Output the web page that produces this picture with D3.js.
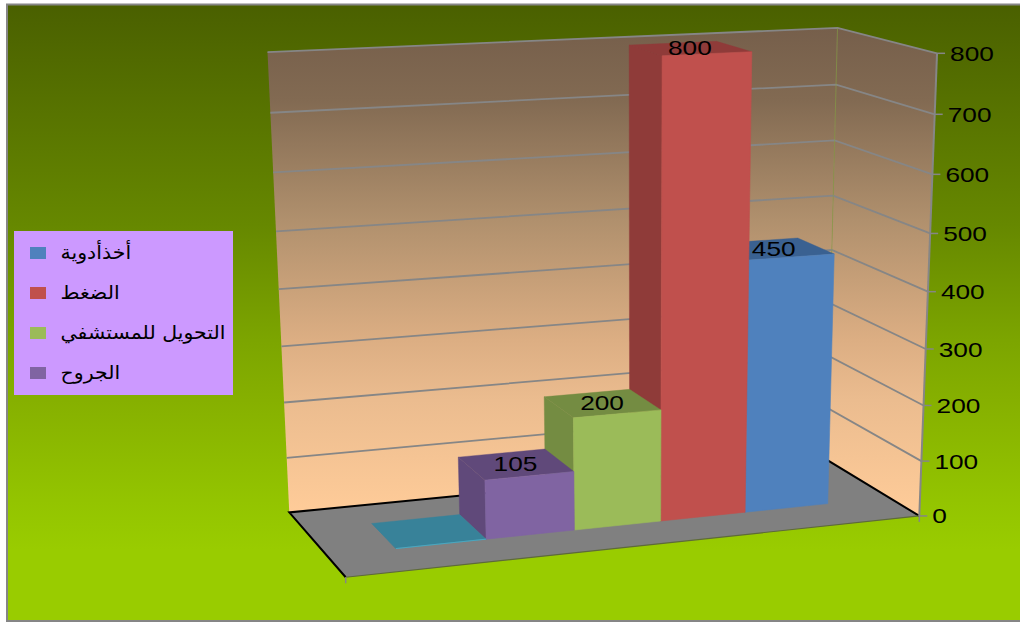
<!DOCTYPE html>
<html>
<head>
<meta charset="utf-8">
<script src="https://cdn.jsdelivr.net/npm/d3@7"></script>
<style>
  body { margin: 0; background: #fff; }
  svg { display: block; }
  text { font-family: "Liberation Sans", Arial, sans-serif; fill: #000; }
  .legend text { font-family: "DejaVu Sans", sans-serif; }
</style>
</head>
<body>
<div id="chart"></div>
<script>
// first bar has no value and no legend entry in the original
var seriesNames = ["", "الجروح", "التحويل للمستشفي", "الضغط", "أخذأدوية"];
var seriesValues = [0, 105, 200, 800, 450];
var seriesColors = ["#4BACC6", "#8064A2", "#9BBB59", "#C0504D", "#4F81BD"];
var sideColors = ["#388299", "#60497A", "#748C42", "#8F3B39", "#3A6191"];
var legendOrder = ["أخذأدوية", "الضغط", "التحويل للمستشفي", "الجروح"];
var valueTicks = [0, 100, 200, 300, 400, 500, 600, 700, 800];

var width = 1020, height = 623;

// 3D box corners -> where they land in the picture (u across, v up, w to the back)
var cameraAnchors = [
    [0, 0, 0, 346, 578], [1, 0, 0, 918, 515], [0, 0, 1, 289, 511], [1, 0, 1, 828, 461],
    [1, 1, 0, 938, 53], [0, 1, 1, 268, 51], [1, 1, 1, 836, 29],
    [1, 0.5, 0, 928, 292], [0, 0.5, 1, 278.5, 289], [1, 0.5, 1, 832, 248],
    [1, 0.25, 0, 923, 406], [1, 0.75, 0, 933, 174], [0, 0.25, 1, 284, 403], [0, 0.75, 1, 273, 174]
];

// least squares fit of the projection
function fitCamera(points) {
    var n = 11, A = d3.range(n).map(() => d3.range(n + 1).map(() => 0));
    function addRow(row, rhs) {
        for (var i = 0; i < n; i++) {
            for (var j = 0; j < n; j++) A[i][j] += row[i] * row[j];
            A[i][n] += row[i] * rhs;
        }
    }
    points.forEach(function (p) {
        var u = p[0], v = p[1], w = p[2], x = p[3] / 1000, y = p[4] / 1000;
        addRow([u, v, w, 1, 0, 0, 0, 0, -x * u, -x * v, -x * w], x);
        addRow([0, 0, 0, 0, u, v, w, 1, -y * u, -y * v, -y * w], y);
    });
    for (var c = 0; c < n; c++) {
        var pivot = c;
        for (var r = c + 1; r < n; r++) if (Math.abs(A[r][c]) > Math.abs(A[pivot][c])) pivot = r;
        var tmp = A[c]; A[c] = A[pivot]; A[pivot] = tmp;
        for (var r = 0; r < n; r++) {
            if (r == c) continue;
            var f = A[r][c] / A[c][c];
            for (var k = c; k <= n; k++) A[r][k] -= f * A[c][k];
        }
    }
    return A.map((row, i) => row[n] / row[i]);
}

var cam = fitCamera(cameraAnchors);

function project(u, v, w) {
    var d = cam[8] * u + cam[9] * v + cam[10] * w + 1;
    return [
        1000 * (cam[0] * u + cam[1] * v + cam[2] * w + cam[3]) / d,
        1000 * (cam[4] * u + cam[5] * v + cam[6] * w + cam[7]) / d
    ];
}

// scales into the unit box
var x = d3.scaleBand().domain(seriesNames).range([0, 1]).paddingInner(0).paddingOuter(0.75).align(0.5);
var y = d3.scaleLinear().domain([0, 800]).range([0, 1]);
var depthFront = 0.315, depthBack = 0.71;

var line = d3.line();
function poly(pts) { return line(pts.map(p => project(p[0], p[1], p[2]))) + "Z"; }

var svg = d3.select("#chart").append("svg").attr("width", width).attr("height", height);
var defs = svg.append("defs");

// stops are [y in the picture, colour]
function gradient(id, stops) {
    var y1 = stops[0][0], y2 = stops[stops.length - 1][0];
    var g = defs.append("linearGradient").attr("id", id)
        .attr("gradientUnits", "userSpaceOnUse")
        .attr("x1", 0).attr("x2", 0).attr("y1", y1).attr("y2", y2);
    stops.forEach(s => g.append("stop").attr("offset", (s[0] - y1) / (y2 - y1)).attr("stop-color", s[1]));
}
gradient("bg", [[5, "#4A6000"], [225, "#668800"], [340, "#7CA500"], [400, "#86B000"], [500, "#93C400"], [550, "#99CC00"]]);
gradient("wall", [[29, "#765F4B"], [100, "#826A52"], [220, "#B0906D"], [340, "#DCAE83"], [400, "#EBBC8F"], [515, "#FFCC99"]]);

// chart area
svg.append("rect").attr("x", 7).attr("y", 4.5).attr("width", width).attr("height", 616.5)
    .attr("fill", "url(#bg)").attr("stroke", "#868686").attr("stroke-width", 2);

// walls and floor
svg.append("path").attr("d", poly([[0, 0, 1], [1, 0, 1], [1, 1, 1], [0, 1, 1]])).attr("fill", "url(#wall)");
svg.append("path").attr("d", poly([[1, 0, 1], [1, 0, 0], [1, 1, 0], [1, 1, 1]])).attr("fill", "url(#wall)");
svg.append("path").attr("d", poly([[0, 0, 0], [1, 0, 0], [1, 0, 1], [0, 0, 1]])).attr("fill", "#808080");

// gridlines
svg.append("g").selectAll("path").data(valueTicks.filter(d => d > 0)).join("path")
    .attr("d", d => line([project(0, y(d), 1), project(1, y(d), 1), project(1, y(d), 0)]))
    .attr("fill", "none").attr("stroke", "#868686").attr("stroke-width", 1.8);

// back corner
svg.append("path").attr("d", line([project(1, 0, 1), project(1, 1, 1)]))
    .attr("stroke", "#8A9A50").attr("stroke-width", 0.7).attr("fill", "none");

// floor edges
svg.append("path").attr("d", line([project(0, 0, 0), project(0, 0, 1), project(1, 0, 1), project(1, 0, 0)]))
    .attr("fill", "none").attr("stroke", "#000").attr("stroke-width", 2);
svg.append("path").attr("d", line([project(0, 0, 0), project(1, 0, 0)]))
    .attr("fill", "none").attr("stroke", "#5E6A3A").attr("stroke-width", 1.2);

// value axis
var axisG = svg.append("g");
axisG.append("path").attr("d", line([project(1, 0, 0), project(1, 1, 0)]))
    .attr("stroke", "#868686").attr("stroke-width", 2).attr("fill", "none");
axisG.selectAll("line").data(valueTicks).join("line")
    .attr("x1", d => project(1, y(d), 0)[0])
    .attr("x2", d => project(1, y(d), 0)[0] + 8)
    .attr("y1", d => project(1, y(d), 0)[1])
    .attr("y2", d => project(1, y(d), 0)[1])
    .attr("stroke", "#868686").attr("stroke-width", 1.5);
axisG.selectAll("text").data(valueTicks).join("text")
    .attr("transform", d => {
        var p = project(1, y(d), 0);
        return "translate(" + (p[0] + 13) + "," + (p[1] + 7.5) + ") scale(1.25,1)";
    })
    .style("font-size", "21px")
    .text(d => d);

// small marks under the front corners
[[0, 0, 0], [1, 0, 0]].forEach(function (c) {
    var p = project(c[0], c[1], c[2]);
    svg.append("line").attr("x1", p[0]).attr("x2", p[0]).attr("y1", p[1]).attr("y2", p[1] + 6)
        .attr("stroke", "#868686").attr("stroke-width", 1.5);
});

// bars, right one first so the nearer left ones paint over it
var bars = seriesNames.map((name, i) => ({
    name: name, value: seriesValues[i], color: seriesColors[i], side: sideColors[i]
})).reverse();

var barG = svg.append("g").selectAll("g").data(bars).join("g");
barG.each(function (d) {
    var g = d3.select(this);
    var u0 = x(d.name), u1 = u0 + x.bandwidth(), v = y(d.value);
    var wF = depthFront, wB = depthBack;
    g.append("path").attr("d", poly([[u0, 0, wB], [u0, 0, wF], [u0, v, wF], [u0, v, wB]]))
        .attr("fill", d.side).attr("stroke", d.side).attr("stroke-width", 0.4);
    g.append("path").attr("d", poly([[u0, v, wF], [u1, v, wF], [u1, v, wB], [u0, v, wB]]))
        .attr("fill", d.side).attr("stroke", d.side).attr("stroke-width", 0.4);
    g.append("path").attr("d", poly([[u0, 0, wF], [u1, 0, wF], [u1, v, wF], [u0, v, wF]]))
        .attr("fill", d.color).attr("stroke", d.color).attr("stroke-width", 0.6);
});

// data labels sit on the top faces
svg.append("g").selectAll("text").data(bars.filter(d => d.value > 0)).join("text")
    .attr("text-anchor", "middle")
    .attr("transform", d => {
        var p = project(x(d.name) + x.bandwidth() / 2, y(d.value), (depthFront + depthBack) / 2);
        return "translate(" + p[0] + "," + (p[1] + 7) + ") scale(1.25,1)";
    })
    .style("font-size", "21px")
    .text(d => d.value);

// legend
var legend = svg.append("g").attr("class", "legend");
legend.append("rect").attr("x", 14).attr("y", 231).attr("width", 219).attr("height", 164).attr("fill", "#CC99FF");
var row = d3.scalePoint().domain(legendOrder).range([253, 373]);
var colorOf = d3.scaleOrdinal().domain(seriesNames).range(seriesColors);
legend.selectAll("rect.key").data(legendOrder).join("rect").attr("class", "key")
    .attr("x", 30).attr("y", d => row(d) - 6).attr("width", 16).attr("height", 12)
    .attr("fill", d => colorOf(d));
legend.selectAll("text").data(legendOrder).join("text")
    .attr("transform", d => "translate(60.5," + (row(d) + 5.5) + ") scale(1.08,1)")
    .style("font-size", "19px")
    .text(d => d);
</script>
</body>
</html>
